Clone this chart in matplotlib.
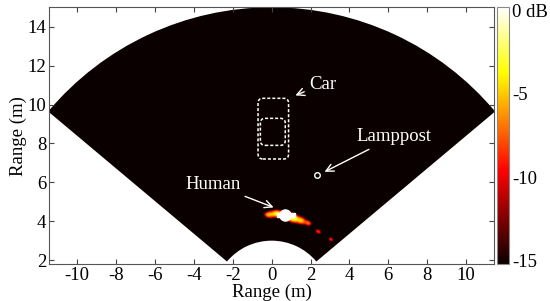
import numpy as np
import matplotlib
matplotlib.use('Agg')
import matplotlib.pyplot as plt
from matplotlib.patches import Wedge, FancyBboxPatch
from matplotlib.colors import Normalize
import matplotlib.cm as cm

plt.rcParams['font.family'] = ['Liberation Serif', 'DejaVu Serif']
plt.rcParams['axes.unicode_minus'] = False

# 扇形成像区域
r_min, r_max = 3.0, 15.0
half_angle = 50.0

# 目标散射点（x, y, 峰值 dB, 切向/径向宽度）
blob_x = [-0.27, -0.10, 0.22, 0.70, 1.10, 1.50, 1.85, 2.38, 3.03, 3.30]
blob_y = [4.33, 4.33, 4.38, 4.31, 4.14, 4.02, 3.90, 3.46, 3.06, 2.72]
blob_db = [-9.0, -5.5, -3.5, 0.0, -2.5, -5.0, -7.0, -8.5, -8.5, -12.0]
blob_st = [0.08, 0.12, 0.14, 0.18, 0.18, 0.14, 0.11, 0.10, 0.08, 0.07]
blob_sr = [0.07, 0.10, 0.10, 0.10, 0.11, 0.10, 0.08, 0.07, 0.06, 0.05]

# 标注物体
lamp_x, lamp_y = 2.35, 6.37
human_x, human_y = 0.70, 4.31
human_sq_x = [0.36, 1.10]

cbar_ticks = [0, -5, -10, -15]
cbar_labels = ['0 dB', '-5', '-10', '-15']
x_ticks = np.arange(-10, 11, 2)
y_ticks = np.arange(2, 15, 2)

# 构建成像网格
gx = np.linspace(-11.5, 11.5, 1151)
gy = np.linspace(1.8, 15.0, 661)
X, Y = np.meshgrid(gx, gy)
power = np.full(X.shape, 1e-4)
for bx, by, bdb, st, sr in zip(blob_x, blob_y, blob_db, blob_st, blob_sr):
    th = np.arctan2(bx, by)
    ur = np.array([np.sin(th), np.cos(th)])
    ut = np.array([np.cos(th), -np.sin(th)])
    dx, dy = X - bx, Y - by
    dr = dx * ur[0] + dy * ur[1]
    dt = dx * ut[0] + dy * ut[1]
    power += 10 ** (bdb / 10) * np.exp(-0.5 * ((dt / st) ** 2 + (dr / sr) ** 2))
img = 10 * np.log10(power)
img = np.clip(img, -15.2, 0.2)

fig = plt.figure(figsize=(5.5, 3.01), dpi=100)
ax = fig.add_axes([49 / 550, 1 - 264 / 301, 445.3 / 550, 256.7 / 301])
cmap = plt.get_cmap('hot')
norm = Normalize(vmin=-15.2, vmax=0.2)
im = ax.imshow(img, origin='lower', extent=[gx[0], gx[-1], gy[0], gy[-1]],
               cmap=cmap, norm=norm, aspect='auto', interpolation='bilinear')
sector = Wedge((0, 0), r_max, 90 - half_angle, 90 + half_angle,
               width=r_max - r_min, transform=ax.transData)
im.set_clip_path(sector)

# 汽车虚线框
ax.add_patch(FancyBboxPatch((-0.70, 7.20), 1.57, 3.12,
                            boxstyle='round,pad=0,rounding_size=0.25',
                            fill=False, ec='white', lw=1.1, ls=(0, (2, 1.3))))
ax.add_patch(FancyBboxPatch((-0.58, 7.90), 1.28, 1.39,
                            boxstyle='round,pad=0,rounding_size=0.25',
                            fill=False, ec='white', lw=1.1, ls=(0, (2, 1.3))))

# 路灯和人
ax.plot(lamp_x, lamp_y, 'o', ms=4, mfc='black', mec='white', mew=1.0)
ax.plot(human_sq_x, [human_y] * 2, 's', ms=3.5, color='white')
ax.plot(human_x, human_y, 'o', ms=8, color='white')

arrow = dict(arrowstyle='->', color='white', lw=1.0, shrinkA=2, shrinkB=0)
ax.annotate('Car', xy=(1.22, 10.47), xytext=(1.95, 11.05), color='white',
            fontsize=13.5, ha='left', va='center', arrowprops=arrow)
ax.annotate('Lamppost', xy=(2.72, 6.54), xytext=(4.35, 8.34), color='white',
            fontsize=13.5, ha='left', va='center', arrowprops=arrow)
ax.annotate('Human', xy=(0.10, 4.71), xytext=(-3.0, 5.91), color='white',
            fontsize=13.5, ha='center', va='center', arrowprops=arrow)

ax.set_xlim(-11.45, 11.45)
ax.set_ylim(1.8, 15.0)
ax.set_xticks(x_ticks)
ax.set_yticks(y_ticks)
ax.set_xlabel('Range (m)', fontsize=13.5, labelpad=0)
ax.set_ylabel('Range (m)', fontsize=13.5, labelpad=0)
ax.tick_params(direction='in', top=True, right=True, length=3.5, width=0.8,
               labelsize=13.5, color='#444444', pad=2)
for s in ax.spines.values():
    s.set_color('#555555')
    s.set_linewidth(0.8)

cax = fig.add_axes([496.7 / 550, 1 - 264 / 301, 12.3 / 550, 256.7 / 301])
cb = fig.colorbar(cm.ScalarMappable(norm=norm, cmap=cmap), cax=cax)
cb.set_ticks(cbar_ticks)
cb.set_ticklabels(cbar_labels)
cb.ax.tick_params(length=0, labelsize=13.5, pad=2.5)
cb.outline.set_edgecolor('#888888')
cb.outline.set_linewidth(0.8)

plt.savefig('out.png', dpi=100)
